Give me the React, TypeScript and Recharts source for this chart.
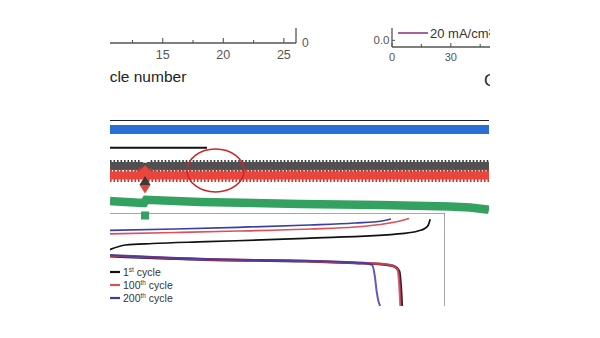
import React from 'react'
import {
  LineChart,
  ComposedChart,
  Line,
  Scatter,
  XAxis,
  YAxis,
  Legend,
  Label,
  ReferenceLine,
  ReferenceDot,
} from 'recharts'

const FONT = '"Liberation Sans", Arial, sans-serif'

// top left panel: cycle number axis (only the part in view)
const cycleMajor = [15, 20, 25]
const cycleMinor = [12.5, 17.5, 22.5]

// top right panel: capacity axis
const capMajor = [0, 30]
const capMinor = [15, 45]
const rateLabel = '20 mA/cm²'

// middle panel: long cycling, one point per listed cycle
const blueCycles = [0, 379]
const blueVals = [90.5, 90.5]
const firstCycles = [0, 97]
const firstVals = [72.3, 72.3]
const grayCycles = [0, 31, 35, 39, 379]
const grayVals = [54, 54, 49, 54, 54]
const redCycles = [0, 31, 35, 39, 379]
const redVals = [44.5, 44.5, 49, 44.5, 44.5]
const greenCycles = [0, 3, 33, 34, 36, 90, 190, 270, 340, 360, 377, 379]
const greenVals = [19, 18.8, 17, 17, 20.2, 18, 16, 15, 13.5, 12.5, 10.5, 10]
const markCycle = 35
const diamondVal = 35
const triangleVal = 38
const squareVal = 4.5
const circledCycle = 105.5
const circledVal = 49.5

// inset: voltage profiles (capacity, voltage)
const chg1Cap = [5, 9, 15, 27, 49, 71, 74, 75.5, 76.3, 76.7]
const chg1V = [1.555, 1.61, 1.625, 1.643, 1.677, 1.727, 1.75, 1.775, 1.81, 1.867]
const chg100Cap = [5, 20, 34, 50, 60, 67, 70, 72]
const chg100V = [1.72, 1.735, 1.75, 1.77, 1.79, 1.825, 1.85, 1.875]
const chg200Cap = [5, 20, 34, 50, 60, 66, 68]
const chg200V = [1.755, 1.77, 1.787, 1.81, 1.83, 1.85, 1.87]
const dis1Cap = [5, 27, 49, 60, 66, 68.8, 69.8, 70.1, 70.3, 70.4]
const dis1V = [1.5, 1.464, 1.447, 1.43, 1.418, 1.395, 1.35, 1.24, 1.1, 1.0]
const dis100Cap = [5, 27, 49, 60, 66, 68.5, 69.5, 69.8, 70, 70.1]
const dis100V = [1.505, 1.467, 1.45, 1.433, 1.42, 1.4, 1.36, 1.25, 1.1, 1.0]
const dis200Cap = [5, 27, 49, 58, 62, 63.8, 64.4, 64.8, 65.2, 65.6]
const dis200V = [1.51, 1.47, 1.452, 1.44, 1.43, 1.41, 1.3, 1.15, 1.05, 1.0]
const insetTicks = [10, 20, 30, 40, 50, 60, 70, 80]
const cycleNames = ['1', '100', '200']
const cycleSup = ['st', 'th', 'th']
const cycleColors = ['#111', '#d8525a', '#3a3ea6']

const zip = (xs: number[], ys: (number | null)[]) => xs.map((c, i) => ({ c, v: ys[i] }))

const cycleTick = (p: any) => {
  const v = p.payload.value
  const major = cycleMajor.includes(v)
  return (
    <g>
      <line x1={p.x} y1={p.y} x2={p.x} y2={p.y - (major ? 5 : 3)} stroke="#555" strokeWidth={1.1} />
      {major && (
        <text x={p.x} y={p.y + 16} textAnchor="middle" fontSize={12.5} fill="#555">
          {v}
        </text>
      )}
    </g>
  )
}

const capTick = (p: any) => {
  const v = p.payload.value
  const major = capMajor.includes(v)
  return (
    <g>
      <line x1={p.x} y1={p.y} x2={p.x} y2={p.y - (major ? 4 : 3)} stroke="#555" strokeWidth={1.1} />
      {major && (
        <text x={p.x} y={p.y + 13.5} textAnchor="middle" fontSize={11} fill="#555">
          {v}
        </text>
      )}
    </g>
  )
}

const insetTick = (p: any) => (
  <line x1={p.x} y1={p.y} x2={p.x} y2={p.y - 3.5} stroke="#666" strokeWidth={1} />
)

const RateLegend = () => (
  <svg width={110} height={16} style={{ overflow: 'visible', display: 'block' }}>
    <line x1={0} y1={7} x2={30} y2={7} stroke="#a0508e" strokeWidth={1.8} />
    <text x={32} y={11.5} fontSize={13} fill="#333" fontFamily={FONT}>
      {rateLabel}
    </text>
  </svg>
)

const CycleLegend = () => (
  <svg width={80} height={42} style={{ overflow: 'visible', display: 'block' }}>
    {cycleNames.map((n, i) => (
      <g key={n}>
        <line x1={-6} y1={6 + i * 13} x2={9} y2={6 + i * 13} stroke={cycleColors[i]} strokeWidth={2.2} />
        <text x={12} y={10 + i * 13} fontSize={10.5} fill="#333" fontFamily={FONT}>
          {n}
          <tspan dy={-4} fontSize={6.5}>
            {cycleSup[i]}
          </tspan>
          <tspan dy={4}> cycle</tspan>
        </text>
      </g>
    ))}
  </svg>
)

export default function App() {
  return (
    <div
      style={{
        position: 'absolute',
        left: 0,
        top: 0,
        width: 600,
        height: 338,
        background: '#fff',
        fontFamily: FONT,
      }}
    >
      <div style={{ position: 'absolute', left: 110, top: 28, width: 380, height: 310, overflow: 'hidden' }}>
        <div style={{ position: 'absolute', left: -110, top: -28, width: 600, height: 338 }}>
          {/* top left: cycle number axis */}
          <div style={{ position: 'absolute', left: -19, top: 0 }}>
            <LineChart width={345} height={82} margin={{ top: 0, right: 0, bottom: 0, left: 0 }}>
              <XAxis
                type="number"
                dataKey="c"
                domain={[0, 26]}
                allowDataOverflow
                ticks={[...cycleMajor, ...cycleMinor].sort((a, b) => a - b)}
                interval={0}
                height={39}
                tickSize={0}
                tickMargin={0}
                tickLine={false}
                tick={cycleTick}
                axisLine={{ stroke: '#555', strokeWidth: 1.3 }}
              >
                <Label value="Cycle number" position="insideBottom" offset={0} fill="#222" fontSize={15.5} />
              </XAxis>
              <YAxis
                orientation="right"
                width={30}
                domain={[0, 1]}
                allowDataOverflow
                ticks={[0]}
                tickSize={0}
                tickMargin={0}
                tickLine={false}
                axisLine={{ stroke: '#555', strokeWidth: 1.3 }}
                tick={(p: any) => (
                  <text x={p.x + 6} y={p.y + 4.3} fontSize={12} fill="#555">
                    {p.payload.value}
                  </text>
                )}
              />
              <Line dataKey="v" data={[]} isAnimationActive={false} />
            </LineChart>
          </div>

          {/* top right: rate capability axis */}
          <div style={{ position: 'absolute', left: 362, top: 27 }}>
            <LineChart width={128} height={60} margin={{ top: 0, right: 0, bottom: 0, left: 0 }}>
              <XAxis
                type="number"
                dataKey="c"
                domain={[0, 50]}
                allowDataOverflow
                ticks={[...capMajor, ...capMinor].sort((a, b) => a - b)}
                interval={0}
                height={40}
                tickSize={0}
                tickMargin={0}
                tickLine={false}
                tick={capTick}
                axisLine={{ stroke: '#555', strokeWidth: 1.3 }}
              >
                <Label
                  content={(props: any) => {
                    const vb = props.viewBox || { x: 392, y: 47 }
                    return (
                      <text x={vb.x + 92} y={vb.y + 39} fontSize={17} fill="#222">
                        Capacity
                      </text>
                    )
                  }}
                />
              </XAxis>
              <YAxis
                width={30}
                domain={[-0.1, 0.2]}
                allowDataOverflow
                ticks={[0]}
                tickSize={0}
                tickMargin={0}
                tickLine={false}
                axisLine={{ stroke: '#555', strokeWidth: 1.3 }}
                tick={(p: any) => (
                  <g>
                    <line x1={p.x} y1={p.y} x2={p.x + 3} y2={p.y} stroke="#555" />
                    <text x={p.x - 2.5} y={p.y + 3.8} textAnchor="end" fontSize={11.5} fill="#555">
                      0.0
                    </text>
                  </g>
                )}
              />
              <Line dataKey="v" data={[]} name={rateLabel} stroke="#a0508e" isAnimationActive={false} />
              <Legend
                layout="horizontal"
                align="center"
                verticalAlign="middle"
                wrapperStyle={{ left: 36, top: -0.7 }}
                content={() => <RateLegend />}
              />
            </LineChart>
          </div>

          {/* inset: voltage profiles */}
          <div style={{ position: 'absolute', left: 85, top: 213 }}>
            <LineChart width={360} height={93} margin={{ top: 0, right: 0, bottom: 0, left: 0 }}>
              <XAxis
                type="number"
                dataKey="c"
                domain={[0, 80]}
                ticks={insetTicks}
                interval={0}
                height={0}
                tickSize={0}
                tickMargin={0}
                tickLine={false}
                tick={insetTick}
                axisLine={{ stroke: '#666', strokeWidth: 1.2 }}
              />
              <YAxis hide domain={[1.0, 1.93]} />
              <ReferenceLine y={1.93} stroke="#888" strokeWidth={1.3} />
              <ReferenceLine x={80} stroke="#777" strokeWidth={1.3} />
              <Line data={zip(chg1Cap, chg1V)} dataKey="v" type="monotone" stroke="#111" strokeWidth={1.7} dot={false} isAnimationActive={false} />
              <Line data={zip(chg100Cap, chg100V)} dataKey="v" type="monotone" stroke="#d8525a" strokeWidth={1.7} dot={false} isAnimationActive={false} />
              <Line data={zip(chg200Cap, chg200V)} dataKey="v" type="monotone" stroke="#3a3ea6" strokeWidth={1.7} dot={false} isAnimationActive={false} />
              <Line data={zip(dis1Cap, dis1V)} dataKey="v" type="monotone" stroke="#3a1a2a" strokeWidth={2.6} dot={false} isAnimationActive={false} />
              <Line data={zip(dis100Cap, dis100V)} dataKey="v" type="monotone" stroke="#c84a5a" strokeOpacity={0.85} strokeWidth={2.4} dot={false} isAnimationActive={false} />
              <Line data={zip(dis200Cap, dis200V)} dataKey="v" type="monotone" stroke="#3a36a8" strokeOpacity={0.8} strokeWidth={2} dot={false} isAnimationActive={false} />
              <Legend
                layout="horizontal"
                align="center"
                verticalAlign="middle"
                wrapperStyle={{ left: 26, top: 52.7 }}
                content={() => <CycleLegend />}
              />
            </LineChart>
          </div>

          {/* middle: long-term cycling bands */}
          <div style={{ position: 'absolute', left: 110, top: 120 }}>
            <ComposedChart width={379} height={100} margin={{ top: 0, right: 0, bottom: 0, left: 0 }}>
              <XAxis hide type="number" dataKey="c" domain={[0, 379]} />
              <YAxis hide domain={[0, 100]} />
              <ReferenceLine y={100} stroke="#222" strokeWidth={2.2} />
              <Line data={zip(blueCycles, blueVals)} dataKey="v" stroke="#2a6fd3" strokeWidth={9} dot={false} isAnimationActive={false} />
              <Line data={zip(firstCycles, firstVals)} dataKey="v" stroke="#111" strokeWidth={2} dot={false} isAnimationActive={false} />
              <Line data={zip(grayCycles, grayVals)} dataKey="v" stroke="#3c3c3c" strokeWidth={12} strokeDasharray="1.6 1.9" dot={false} isAnimationActive={false} />
              <Line data={zip(grayCycles, grayVals)} dataKey="v" stroke="#505050" strokeWidth={8} dot={false} isAnimationActive={false} />
              <Line data={zip(redCycles, redVals)} dataKey="v" stroke="#d8322c" strokeWidth={13} strokeDasharray="1.6 1.9" dot={false} isAnimationActive={false} />
              <Line data={zip(redCycles, redVals)} dataKey="v" stroke="#e8463d" strokeWidth={8} dot={false} isAnimationActive={false} />
              <Line data={zip(greenCycles, greenVals)} dataKey="v" stroke="#33a160" strokeWidth={8.5} dot={false} isAnimationActive={false} />
              <Scatter
                data={[{ c: markCycle, v: diamondVal }]}
                dataKey="v"
                isAnimationActive={false}
                shape={(p: any) => (
                  <polygon
                    points={`${p.cx},${p.cy - 8.5} ${p.cx + 5.5},${p.cy} ${p.cx},${p.cy + 8.5} ${p.cx - 5.5},${p.cy}`}
                    fill="#e0443c"
                  />
                )}
              />
              <Scatter
                data={[{ c: markCycle, v: triangleVal }]}
                dataKey="v"
                isAnimationActive={false}
                shape={(p: any) => (
                  <polygon
                    points={`${p.cx},${p.cy - 6} ${p.cx + 5.5},${p.cy + 3} ${p.cx - 5.5},${p.cy + 3}`}
                    fill="#3a3a3a"
                  />
                )}
              />
              <Scatter
                data={[{ c: markCycle, v: squareVal }]}
                dataKey="v"
                isAnimationActive={false}
                shape={(p: any) => <rect x={p.cx - 4} y={p.cy - 4} width={8} height={8} fill="#33a160" />}
              />
              <ReferenceDot
                x={circledCycle}
                y={circledVal}
                shape={(p: any) => (
                  <ellipse cx={p.cx} cy={p.cy} rx={28.5} ry={21.5} fill="none" stroke="#c8282e" strokeWidth={1.6} />
                )}
              />
            </ComposedChart>
          </div>
        </div>
      </div>
    </div>
  )
}
